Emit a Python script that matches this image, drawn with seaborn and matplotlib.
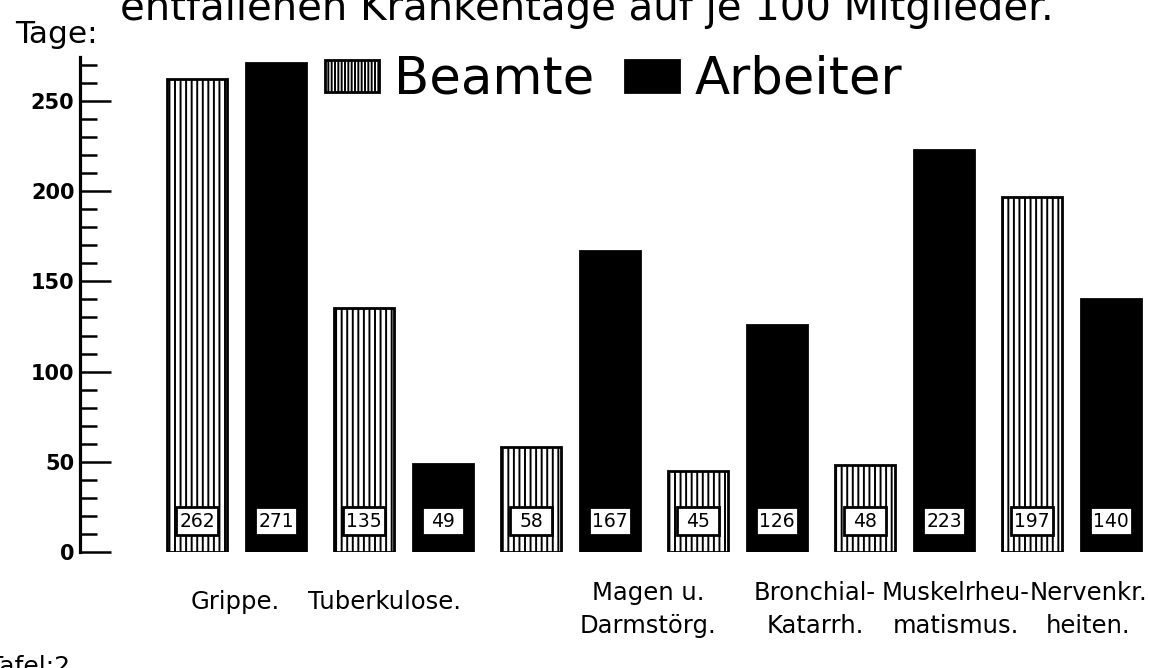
import matplotlib
matplotlib.use("Agg")
import matplotlib.pyplot as plt
import seaborn as sns
import pandas as pd
from matplotlib.patches import Patch, Rectangle
from matplotlib.ticker import MultipleLocator

# ---- data ----
categories = ["Grippe.", "Tuberkulose.", "Magen u.\nDarmstörg.", "Bronchial-\nKatarrh.",
              "Muskelrheu-\nmatismus.", "Nervenkr.\nheiten."]
beamte = [262, 135, 58, 45, 48, 197]
arbeiter = [271, 49, 167, 126, 223, 140]
series = ["Beamte", "Arbeiter"]
yticks_major = [0, 50, 100, 150, 200, 250]
title = "entfallenen Krankentage auf je 100 Mitglieder."

df = pd.DataFrame({
    "cat": categories * 2,
    "val": beamte + arbeiter,
    "grp": [series[0]] * len(categories) + [series[1]] * len(categories),
})

sns.set_style("white")
plt.rcParams["font.family"] = ["DejaVu Sans"]
plt.rcParams["hatch.linewidth"] = 1.4
for k in ["text.color", "axes.labelcolor", "xtick.color", "ytick.color", "axes.edgecolor"]:
    plt.rcParams[k] = "black"

fig = plt.figure(figsize=(11.5, 6.68), dpi=100)
W, H = 1150, 668
ax = fig.add_axes([80 / W, (H - 552) / H, 1070 / W, (552 - 57) / H])

sns.barplot(data=df, x="cat", y="val", hue="grp", hue_order=series, order=categories,
            palette={"Beamte": "white", "Arbeiter": "black"}, width=0.946, gap=0.23,
            edgecolor="black", linewidth=2, legend=False, ax=ax, saturation=1)

for bar in ax.containers[0]:
    bar.set_hatch("|||")

ax.set_xlim(-0.937, 5.47)
ax.set_ylim(0, 274.4)

# value boxes
for cont, vals in zip(ax.containers, [beamte, arbeiter]):
    for bar, v in zip(cont, vals):
        cx = bar.get_x() + bar.get_width() / 2
        bw = 0.25
        ax.add_patch(Rectangle((cx - bw / 2, 9.4), bw, 15.5, facecolor="white",
                               edgecolor="black", linewidth=2, zorder=5))
        ax.text(cx, 16.9, str(v), ha="center", va="center", fontsize=13.5,
                fontweight="medium", color="black", zorder=6)

# axes styling
for s in ["top", "right", "bottom"]:
    ax.spines[s].set_visible(False)
ax.spines["left"].set_linewidth(2.3)
ax.yaxis.set_major_locator(MultipleLocator(50))
ax.yaxis.set_minor_locator(MultipleLocator(10))
ax.set_yticks(yticks_major)
ax.tick_params(axis="y", which="major", direction="in", length=22, width=1.8,
               pad=4, labelsize=15, left=True)
ax.tick_params(axis="y", which="minor", direction="in", length=12, width=1.8, left=True)
for lab in ax.get_yticklabels():
    lab.set_fontweight("bold")
ax.set_ylabel("")
ax.set_xlabel("")
ax.set_xticks([])

# category labels (placed along the bottom as in the original)
label_x_px = [235, 384, 648, 815, 956, 1088]
for cat, px in zip(categories, label_x_px):
    top = 590 if "\n" not in cat else 581
    fig.text(px / W, 1 - top / H, cat, ha="center", va="top", fontsize=17.5,
             linespacing=1.45)

# legend
handles = [Patch(facecolor="white", edgecolor="black", hatch="|||||", linewidth=2, label=series[0]),
           Patch(facecolor="black", edgecolor="black", linewidth=2, label=series[1])]
fig.legend(handles=handles, loc="center left", bbox_to_anchor=(325 / W, 1 - 80 / H),
           ncol=2, frameon=False, fontsize=37, handlelength=1.05, handleheight=0.6,
           handletextpad=0.3, columnspacing=0.6, borderpad=0, borderaxespad=0)

# title (cut off at top) and side texts
fig.text(587 / W, 1 - 20 / H, title, ha="center", va="baseline", fontsize=29)
fig.text(15 / W, 1 - 43 / H, "Tage:", ha="left", va="baseline", fontsize=22.5)
fig.text(-12 / W, 1 - 674 / H, "Tafel:2", ha="left", va="baseline", fontsize=18)

fig.savefig("out.png", dpi=100, facecolor="white")
